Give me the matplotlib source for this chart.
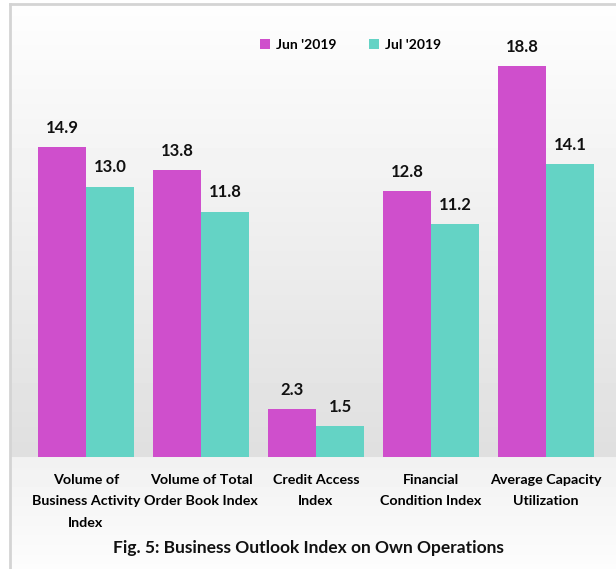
"""Business Outlook Index on Own Operations - grouped bar chart."""

import numpy as np
import matplotlib.pyplot as plt

plt.rcParams['font.family'] = ['Lato', 'DejaVu Sans']

categories = [
    "Volume of\nBusiness Activity\nIndex",
    "Volume of Total\nOrder Book Index",
    "Credit Access\nIndex",
    "Financial\nCondition Index",
    "Average Capacity\nUtilization",
]
jun_2019 = [14.9, 13.8, 2.3, 12.8, 18.8]
jul_2019 = [13.0, 11.8, 1.5, 11.2, 14.1]
series_labels = ["Jun '2019", "Jul '2019"]

COL_JUN = '#cf4fcc'
COL_JUL = '#64d3c5'

W, H = 616, 569
fig = plt.figure(figsize=(W / 100, H / 100), dpi=100)
fig.patch.set_facecolor('white')

# background panel with vertical grey gradient (as in the source image)
bg = fig.add_axes([10 / W, 0, 1 - 10 / W, 1 - 5 / H], zorder=0)
grad = np.concatenate([
    np.linspace(0.995, 0.875, 452),
    np.linspace(0.945, 0.99, 112),
])[:, None]
bg.imshow(grad, aspect='auto', cmap='gray', vmin=0, vmax=1, extent=[0, 1, 0, 1])
bg.set_xlim(0, 1)
bg.set_ylim(0, 1)
bg.axis('off')
fig.add_artist(plt.Line2D([10 / W, 10 / W], [0, 1 - 4 / H], transform=fig.transFigure,
                          color='#d4d4d4', lw=2))
fig.add_artist(plt.Line2D([10 / W, 1], [1 - 4 / H, 1 - 4 / H], transform=fig.transFigure,
                          color='#d4d4d4', lw=2))

ax = fig.add_axes([28.5 / W, (H - 457) / H, 575 / W, 416 / H], zorder=1)
ax.patch.set_alpha(0)

x = np.arange(len(categories))
width = 0.4175

b1 = ax.bar(x - width / 2, jun_2019, width, color=COL_JUN, label=series_labels[0], zorder=3)
b2 = ax.bar(x + width / 2, jul_2019, width, color=COL_JUL, label=series_labels[1], zorder=3)

for bars in (b1, b2):
    for rect in bars:
        h = rect.get_height()
        ax.annotate(f"{h:.1f}", (rect.get_x() + rect.get_width() / 2, h),
                    xytext=(0, 8), textcoords='offset points',
                    ha='center', va='bottom', fontsize=12, fontweight='bold', color='#111111')

ax.set_xlim(-0.5, len(categories) - 0.5)
ax.set_ylim(0, 20)
ax.set_yticks([])
ax.set_xticks(x)
ax.set_xticklabels(categories, fontsize=10.3, fontweight='bold', linespacing=1.95)
ax.tick_params(axis='x', length=0, pad=12)
for s in ax.spines.values():
    s.set_visible(False)

leg = ax.legend(loc='center', bbox_to_anchor=(0.56, 0.99), ncol=2, frameon=False,
                handlelength=0.7, handleheight=0.7, columnspacing=2.4, handletextpad=0.4,
                prop={'weight': 'bold', 'size': 10})

fig.text(0.5, (H - 548) / H, "Fig. 5: Business Outlook Index on Own Operations",
         ha='center', va='center', fontsize=12.5, fontweight='bold', color='#111111')

plt.savefig('out.png', dpi=100)
plt.close()
